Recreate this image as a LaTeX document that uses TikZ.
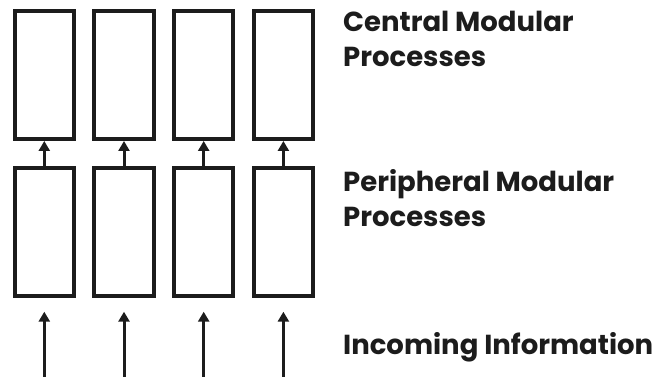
\documentclass[tikz,border=0pt]{standalone}
\usepackage{fontspec}
\setmainfont{Poppins}
\usetikzlibrary{arrows.meta}
\definecolor{ink}{HTML}{1C1C1C}
\begin{document}
\begin{tikzpicture}[x=1pt,y=-1pt,
  modbox/.style={draw=ink,line width=4pt,minimum width=59.3pt,minimum height=128pt,inner sep=0pt,outer sep=2pt},
  flow/.style={draw=ink,line width=3pt,-{Triangle[width=11pt,length=10pt]}},
  lbl/.style={text=ink,anchor=base west,inner sep=0pt,align=left,font=\bfseries\fontsize{27.5}{35}\selectfont}]
\useasboundingbox[fill=white] (0,0) rectangle (657,379);
\foreach \i/\x in {1/44.3,2/124,3/203.7,4/283.4}{
  \node[modbox] (c\i) at (\x,75) {};
  \node[modbox] (p\i) at (\x,232.5) {};
  \draw[flow] (p\i.north) -- (c\i.south);
  \coordinate (s\i) at (\x,377);
  \coordinate (t\i) at (\x,311.7);
  \draw[flow] (s\i) -- (t\i);
}
\node[lbl] (cl) at (343,66.7) {Central Modular\\Processes};
\node[lbl] (pl) at (343,226.7) {Peripheral Modular\\Processes};
\node[lbl] (il) at (343,355) {Incoming Information};
\end{tikzpicture}
\end{document}
